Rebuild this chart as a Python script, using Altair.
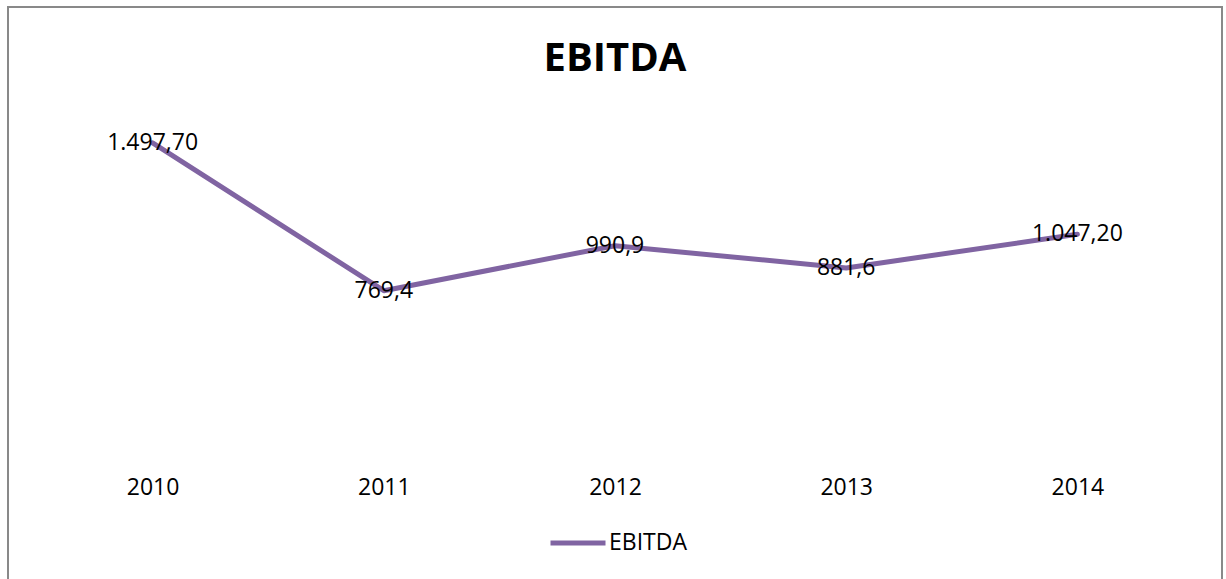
import altair as alt
import pandas as pd

years = ["2010", "2011", "2012", "2013", "2014"]
ebitda = [1497.7, 769.4, 990.9, 881.6, 1047.2]
value_labels = ["1.497,70", "769,4", "990,9", "881,6", "1.047,20"]
series = ["EBITDA"] * 5

df = pd.DataFrame({"year": years, "value": ebitda, "label": value_labels, "series": series})

FONT = "Open Sans"
PURPLE = "#8064A2"

x = alt.X("year:N", sort=years, title=None,
          scale=alt.Scale(type="point", padding=0.5),
          axis=alt.Axis(domain=False, ticks=False, tickSize=0, labelAngle=0,
                        labelPadding=29, labelFontSize=23, labelFont=FONT,
                        labelColor="#000000", grid=False))
y = alt.Y("value:Q", title=None,
          scale=alt.Scale(domain=[0, 1600], nice=False, zero=True),
          axis=None)

line = alt.Chart(df).mark_line(strokeWidth=5, strokeCap="round", strokeJoin="round").encode(
    x=x, y=y,
    color=alt.Color("series:N", title=None,
                    scale=alt.Scale(range=[PURPLE]),
                    legend=alt.Legend(orient="none", legendX=511, legendY=391,
                                      symbolType="stroke", symbolSize=3025,
                                      symbolStrokeWidth=5, labelFontSize=23,
                                      labelFont=FONT, labelColor="#000000",
                                      labelOffset=1, padding=0))
)

text = alt.Chart(df).mark_text(fontSize=23, font=FONT, color="#000000",
                               baseline="middle", align="center", dy=0).encode(
    x=x, y=y, text="label:N"
)

frame = alt.Chart(df).mark_rect(fill=None, stroke="#898989", strokeWidth=1.5, clip=False).encode(
    x=alt.value(-29), x2=alt.value(1185), y=alt.value(-115), y2=alt.value(480)
)

chart = alt.layer(frame, line, text).properties(
    width=1156, height=325,
    title=alt.TitleParams("EBITDA", fontSize=40, font=FONT, fontWeight="bold",
                          color="#000000", anchor="middle", baseline="alphabetic",
                          offset=-105),
    autosize=alt.AutoSizeParams(type="none"),
    padding={"left": 37, "top": 122, "right": 33, "bottom": 132},
    background="white",
).configure_view(stroke=None)

chart.save("out.html", embed_options={"renderer": "svg", "actions": False})
